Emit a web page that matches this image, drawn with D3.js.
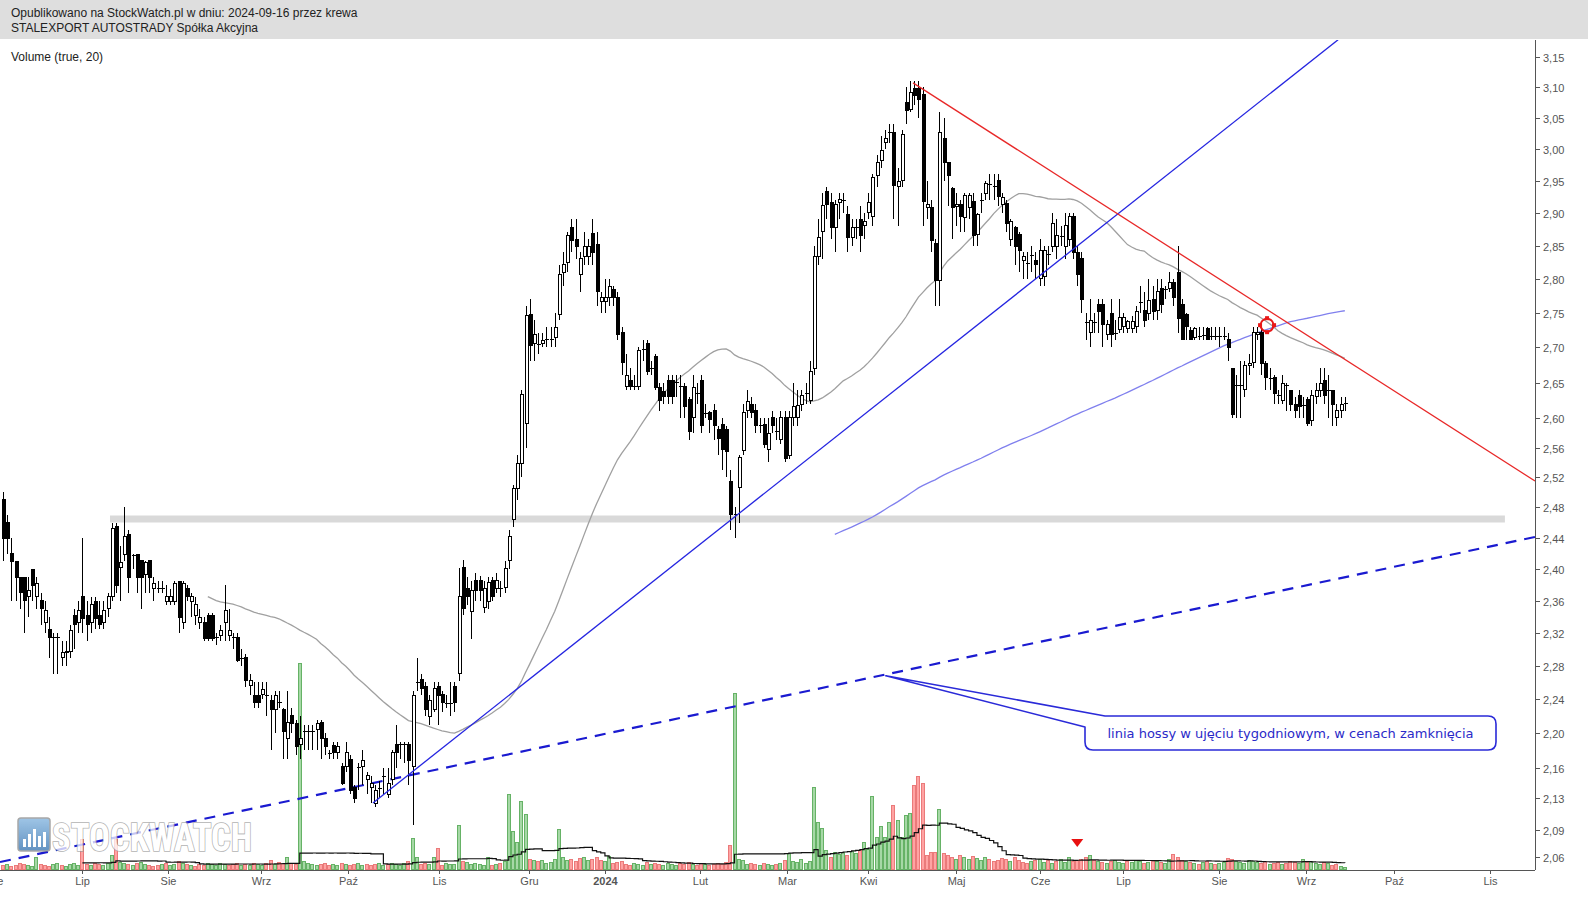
<!DOCTYPE html>
<html><head><meta charset="utf-8">
<script src="https://cdn.jsdelivr.net/npm/d3@7"></script>
<style>body{margin:0;background:#fff;}svg{display:block;font-family:Arial,"Liberation Sans",sans-serif;}</style>
</head><body><svg id="c" width="1588" height="900"></svg>
<script>
// ---------------- DATA ----------------
const opens=[
2.49,2.46,2.42,2.41,2.39,2.39,2.366,2.40,2.366,2.36,
2.333,2.324,2.315,2.315,2.29,2.298,2.298,2.342,2.333,2.366,
2.342,2.333,2.359,2.342,2.333,2.35,2.366,2.455,2.402,2.419,
2.445,2.418,2.419,2.411,2.393,2.411,2.376,2.376,2.376,2.359,
2.359,2.359,2.385,2.333,2.376,2.359,2.342,2.333,2.333,2.342,
2.342,2.315,2.317,2.333,2.317,2.315,2.315,2.289,2.29,2.256,
2.245,2.245,2.246,2.245,2.238,2.228,2.237,2.228,2.194,2.221,
2.211,2.187,2.202,2.202,2.202,2.204,2.212,2.194,2.177,2.186,
2.177,2.161,2.161,2.170,2.137,2.161,2.161,2.146,2.137,2.119,
2.137,2.151,2.130,2.146,2.187,2.187,2.187,2.187,2.161,2.26,
2.264,2.255,2.22,2.228,2.255,2.246,2.236,2.236,2.255,2.271,
2.402,2.376,2.347,2.386,2.386,2.352,2.359,2.386,2.376,2.376,
2.377,2.411,2.464,2.505,2.539,2.593,2.747,2.705,2.705,2.705,
2.712,2.712,2.714,2.747,2.809,2.825,2.878,2.859,2.807,2.834,
2.834,2.869,2.851,2.766,2.766,2.772,2.784,2.773,2.721,2.645,
2.653,2.645,2.645,2.697,2.705,2.670,2.687,2.643,2.637,2.653,
2.653,2.651,2.645,2.645,2.626,2.601,2.636,2.653,2.608,2.608,
2.611,2.585,2.591,2.585,2.515,2.471,2.506,2.556,2.611,2.619,
2.611,2.591,2.591,2.557,2.601,2.583,2.571,2.601,2.549,2.601,
2.601,2.619,2.636,2.625,2.670,2.834,2.871,2.933,2.916,2.878,
2.916,2.920,2.897,2.862,2.878,2.889,2.880,2.901,2.895,2.958,
2.981,3.011,3.027,3.027,2.941,2.950,3.075,3.064,3.098,3.098,
3.088,2.908,2.908,2.853,2.798,3.017,2.978,2.937,2.909,2.912,
2.892,2.908,2.918,2.866,2.920,2.930,2.944,2.942,2.950,2.912,
2.915,2.859,2.878,2.866,2.828,2.823,2.836,2.828,2.800,2.803,
2.837,2.848,2.848,2.865,2.848,2.859,2.894,2.840,2.831,2.736,
2.721,2.737,2.762,2.762,2.718,2.749,2.721,2.726,2.730,2.727,
2.727,2.730,2.766,2.753,2.749,2.769,2.753,2.786,2.785,2.785,
2.795,2.810,2.762,2.747,2.725,2.714,2.717,2.718,2.727,2.717,
2.716,2.716,2.717,2.711,2.670,2.647,2.647,2.640,2.674,2.678,
2.718,2.721,2.677,2.657,2.657,2.632,2.625,2.647,2.639,2.619,
2.632,2.619,2.627,2.597,2.630,2.639,2.653,2.639,2.639,2.601,
2.611,2.622];
const highs=[
2.50,2.47,2.44,2.41,2.39,2.39,2.39,2.40,2.39,2.37,
2.36,2.34,2.32,2.32,2.31,2.31,2.33,2.35,2.36,2.44,
2.36,2.365,2.365,2.36,2.36,2.37,2.46,2.46,2.43,2.48,
2.45,2.42,2.42,2.41,2.41,2.41,2.39,2.385,2.385,2.38,
2.375,2.385,2.385,2.385,2.38,2.37,2.365,2.35,2.34,2.345,
2.345,2.32,2.33,2.38,2.35,2.32,2.32,2.30,2.295,2.27,
2.26,2.26,2.26,2.26,2.245,2.25,2.25,2.23,2.25,2.23,
2.215,2.22,2.21,2.21,2.21,2.215,2.215,2.20,2.18,2.19,
2.19,2.165,2.19,2.175,2.14,2.165,2.18,2.155,2.15,2.14,
2.145,2.16,2.16,2.18,2.21,2.19,2.19,2.19,2.25,2.29,
2.27,2.26,2.245,2.26,2.26,2.25,2.245,2.26,2.26,2.402,
2.412,2.39,2.385,2.395,2.392,2.385,2.39,2.39,2.395,2.385,
2.41,2.45,2.51,2.55,2.64,2.76,2.77,2.74,2.72,2.72,
2.73,2.73,2.75,2.82,2.84,2.87,2.89,2.89,2.84,2.87,
2.86,2.89,2.87,2.78,2.80,2.80,2.79,2.78,2.73,2.69,
2.67,2.66,2.70,2.71,2.71,2.68,2.69,2.65,2.65,2.66,
2.66,2.66,2.66,2.65,2.63,2.66,2.65,2.66,2.62,2.61,
2.62,2.59,2.60,2.59,2.53,2.48,2.55,2.62,2.64,2.63,
2.62,2.60,2.60,2.60,2.61,2.60,2.61,2.61,2.61,2.65,
2.64,2.64,2.65,2.68,2.85,2.89,2.93,2.94,2.93,2.92,
2.93,2.93,2.91,2.89,2.89,2.91,2.90,2.93,2.96,2.99,
3.02,3.03,3.04,3.04,2.97,3.03,3.10,3.11,3.11,3.11,
3.10,2.95,2.92,2.86,3.06,3.05,2.98,2.94,2.93,2.92,
2.93,2.93,2.93,2.90,2.93,2.95,2.96,2.96,2.96,2.93,
2.92,2.89,2.88,2.87,2.84,2.84,2.85,2.84,2.86,2.85,
2.85,2.90,2.89,2.88,2.90,2.90,2.90,2.85,2.84,2.75,
2.77,2.75,2.77,2.77,2.74,2.77,2.74,2.77,2.75,2.74,
2.745,2.76,2.79,2.78,2.80,2.79,2.80,2.80,2.79,2.81,
2.80,2.85,2.77,2.75,2.73,2.73,2.73,2.73,2.73,2.73,
2.73,2.73,2.73,2.72,2.67,2.66,2.68,2.68,2.69,2.73,
2.73,2.73,2.68,2.67,2.66,2.64,2.66,2.65,2.64,2.63,
2.64,2.63,2.63,2.64,2.65,2.67,2.67,2.66,2.64,2.62,
2.63,2.63];
const lows=[
2.41,2.42,2.36,2.36,2.35,2.32,2.34,2.36,2.35,2.33,
2.32,2.29,2.27,2.27,2.28,2.28,2.29,2.30,2.32,2.32,
2.31,2.32,2.325,2.325,2.325,2.34,2.36,2.37,2.36,2.41,
2.37,2.40,2.37,2.35,2.37,2.37,2.36,2.37,2.37,2.355,
2.355,2.355,2.32,2.325,2.36,2.34,2.33,2.325,2.31,2.31,
2.31,2.305,2.31,2.31,2.31,2.30,2.285,2.28,2.255,2.245,
2.23,2.23,2.24,2.22,2.18,2.20,2.23,2.17,2.17,2.20,
2.175,2.17,2.18,2.18,2.18,2.18,2.17,2.175,2.17,2.17,
2.17,2.14,2.155,2.13,2.12,2.135,2.14,2.13,2.12,2.115,
2.125,2.13,2.125,2.14,2.16,2.17,2.165,2.14,2.095,2.25,
2.245,2.22,2.21,2.225,2.21,2.225,2.23,2.22,2.225,2.262,
2.343,2.355,2.313,2.36,2.36,2.345,2.35,2.36,2.37,2.365,
2.37,2.40,2.455,2.49,2.52,2.56,2.68,2.68,2.69,2.70,
2.70,2.70,2.70,2.74,2.79,2.81,2.84,2.83,2.78,2.82,
2.82,2.82,2.76,2.75,2.75,2.76,2.76,2.71,2.66,2.64,
2.64,2.64,2.64,2.68,2.66,2.66,2.64,2.61,2.62,2.62,
2.62,2.63,2.60,2.60,2.57,2.58,2.62,2.58,2.60,2.58,
2.57,2.55,2.53,2.52,2.45,2.44,2.46,2.55,2.60,2.60,
2.58,2.58,2.56,2.54,2.58,2.57,2.565,2.54,2.545,2.59,
2.59,2.61,2.62,2.62,2.66,2.82,2.83,2.89,2.86,2.84,
2.89,2.90,2.84,2.85,2.86,2.84,2.86,2.89,2.88,2.94,
2.97,3.00,3.01,2.89,2.88,2.94,3.04,3.06,3.07,3.05,
2.88,2.89,2.84,2.76,2.76,2.95,2.91,2.86,2.88,2.87,
2.87,2.89,2.85,2.85,2.90,2.92,2.92,2.92,2.91,2.90,
2.87,2.85,2.82,2.81,2.80,2.80,2.81,2.80,2.79,2.79,
2.82,2.84,2.83,2.85,2.83,2.85,2.83,2.79,2.75,2.71,
2.70,2.72,2.72,2.70,2.71,2.70,2.71,2.72,2.72,2.72,
2.72,2.72,2.75,2.73,2.74,2.74,2.74,2.75,2.77,2.78,
2.76,2.72,2.71,2.71,2.71,2.71,2.71,2.71,2.71,2.71,
2.71,2.70,2.71,2.68,2.60,2.60,2.60,2.63,2.66,2.67,
2.71,2.66,2.64,2.64,2.62,2.62,2.62,2.61,2.61,2.60,
2.60,2.60,2.59,2.59,2.62,2.63,2.62,2.60,2.59,2.59,
2.60,2.61];
const closes=[
2.44,2.44,2.41,2.39,2.37,2.36,2.373,2.38,2.382,2.35,
2.348,2.314,2.315,2.315,2.296,2.296,2.323,2.33,2.348,2.338,
2.33,2.355,2.338,2.33,2.348,2.365,2.452,2.38,2.409,2.442,
2.39,2.418,2.39,2.39,2.409,2.39,2.382,2.376,2.376,2.365,
2.365,2.382,2.339,2.382,2.365,2.365,2.355,2.339,2.313,2.313,
2.313,2.315,2.323,2.348,2.323,2.315,2.287,2.289,2.262,2.262,
2.236,2.236,2.252,2.245,2.228,2.245,2.237,2.202,2.212,2.211,
2.184,2.194,2.202,2.202,2.202,2.211,2.194,2.184,2.177,2.177,
2.184,2.142,2.177,2.134,2.125,2.161,2.168,2.151,2.142,2.134,
2.137,2.151,2.142,2.177,2.177,2.187,2.187,2.168,2.245,2.26,
2.253,2.228,2.239,2.253,2.245,2.236,2.236,2.236,2.236,2.366,
2.350,2.366,2.373,2.373,2.373,2.376,2.383,2.366,2.386,2.376,
2.401,2.442,2.505,2.538,2.633,2.746,2.702,2.718,2.705,2.710,
2.712,2.712,2.728,2.806,2.821,2.865,2.857,2.849,2.830,2.849,
2.849,2.840,2.781,2.772,2.772,2.789,2.772,2.718,2.678,2.660,
2.645,2.645,2.695,2.697,2.666,2.670,2.643,2.625,2.630,2.631,
2.631,2.651,2.645,2.616,2.582,2.643,2.636,2.590,2.608,2.598,
2.590,2.572,2.557,2.555,2.471,2.471,2.547,2.608,2.623,2.608,
2.590,2.591,2.564,2.580,2.590,2.583,2.601,2.545,2.601,2.616,
2.618,2.632,2.636,2.666,2.834,2.862,2.911,2.912,2.878,2.912,
2.920,2.920,2.862,2.877,2.878,2.865,2.886,2.916,2.955,2.978,
2.998,3.017,3.027,2.942,2.948,3.023,3.062,3.091,3.086,3.080,
2.917,2.912,2.857,2.798,3.027,2.978,2.958,2.908,2.912,2.895,
2.926,2.926,2.865,2.898,2.920,2.945,2.944,2.942,2.925,2.923,
2.884,2.887,2.848,2.842,2.834,2.823,2.836,2.822,2.842,2.842,
2.837,2.884,2.865,2.865,2.880,2.895,2.840,2.807,2.769,2.736,
2.739,2.737,2.752,2.733,2.733,2.718,2.721,2.743,2.743,2.737,
2.737,2.752,2.766,2.739,2.768,2.752,2.782,2.762,2.785,2.795,
2.772,2.741,2.711,2.730,2.712,2.727,2.717,2.718,2.711,2.717,
2.716,2.716,2.717,2.700,2.605,2.647,2.647,2.674,2.677,2.721,
2.721,2.677,2.657,2.657,2.634,2.632,2.649,2.647,2.619,2.611,
2.616,2.619,2.593,2.632,2.639,2.649,2.632,2.639,2.619,2.611,
2.620,2.622];
// volume, thousands of shares
const volumes=[
4,5,3,4,6,5,4,3,12,5, 4,3,5,6,4,3,5,6,4,30,
5,4,6,5,4,6,14,30,7,6, 5,4,6,7,5,4,3,4,5,6,
4,5,8,6,5,4,3,5,4,6, 5,4,6,5,4,5,6,4,5,4,
6,5,4,6,9,5,7,6,12,6, 5,206,8,6,5,4,5,6,4,5,
4,6,5,4,5,6,4,5,4,5, 6,4,5,6,5,4,6,8,31,12,
5,6,5,12,21,4,6,5,5,44, 8,7,5,6,5,4,12,4,5,6,
8,75,38,27,68,55,10,9,8,9, 6,7,10,40,12,9,10,8,11,12,
9,10,12,9,8,13,6,7,8,5, 4,6,5,4,7,5,6,5,4,6,
5,4,6,5,7,5,4,6,5,4, 5,6,5,7,24,176,10,9,5,6,
5,4,6,5,4,5,6,9,16,8, 7,10,6,8,82,47,41,19,12,17,
15,17,14,18,16,19,27,20,73,32, 43,32,47,64,49,32,54,56,84,93,
86,14,17,17,60,16,14,12,10,14, 12,10,13,11,9,12,10,8,9,11,
10,8,12,9,7,6,8,9,10,7, 9,6,8,10,7,12,8,9,10,12,
14,9,8,7,6,8,9,7,6,8, 7,9,8,6,7,9,8,7,6,10,
15,12,9,8,7,6,5,7,8,6, 5,6,7,11,10,8,7,6,9,8,
7,6,8,5,6,7,5,6,8,7, 6,10,7,8,6,5,7,6,4,5,
3,2];
const priceTicks=[2.06,2.09,2.125,2.16,2.20,2.24,2.28,2.32,2.36,2.40,2.44,2.48,2.52,2.56,2.60,2.65,2.70,2.75,2.80,2.85,2.90,2.95,3.00,3.05,3.10,3.15];
const priceTickLabels=["2,06","2,09","2,13","2,16","2,20","2,24","2,28","2,32","2,36","2,40","2,44","2,48","2,52","2,56","2,60","2,65","2,70","2,75","2,80","2,85","2,90","2,95","3,00","3,05","3,10","3,15"];
const monthLabels=["Cze","Lip","Sie","Wrz","Paź","Lis","Gru","2024","Lut","Mar","Kwi","Maj","Cze","Lip","Sie","Wrz","Paź","Lis"];
const monthIdx=[-2.5,19,39.5,61.7,82.5,104.3,125.8,144,166.7,187.6,207,228,248,268,291,311.7,332.8,355.7];
// drawn lines: [barIndex, price] anchors
const blueTrend=[[88.5,2.12],[319.4,3.179]];
const redTrend=[[217.7,3.107],[366.5,2.515]];
const weeklyTrend=[[-0.72,2.0545],[366.5,2.4415]];
const supportBand=[[25.6,2.465],[359.3,2.465]];
const noteAnchor=[211.2,2.268];
const noteText="linia hossy w ujęciu tygodniowym, w cenach zamknięcia";
const targetMark=[302.4,2.732];
const signalBar=257;
const headerLines=["Opublikowano na StockWatch.pl w dniu: 2024-09-16 przez krewa","STALEXPORT AUTOSTRADY Spółka Akcyjna"];
const maShort=50, maLong=200, volMa=20;

// ---------------- CHART ----------------
const svg=d3.select("#c");
const W=1588,H=900, plotL=0, plotR=1535, plotT=40, plotB=870;
const x=d3.scaleLinear().domain([0,366.5]).range([3,1535]);
const y=d3.scaleLog().domain([2.06,3.15]).range([857,57]);
const vy=d3.scaleLinear().domain([0,206]).range([869,663]);

svg.append("rect").attr("width",W).attr("height",H).attr("fill","#fff");
// header
svg.append("rect").attr("x",0).attr("y",0).attr("width",W).attr("height",39).attr("fill","#dedede");
headerLines.forEach((t,k)=>svg.append("text").attr("x",11).attr("y",17+k*14.5).attr("font-size",12).attr("fill","#222").text(t));

const defs=svg.append("defs");
defs.append("clipPath").attr("id","plot").append("rect").attr("x",plotL).attr("y",plotT).attr("width",plotR-plotL).attr("height",plotB-plotT);
const g=svg.append("g").attr("clip-path","url(#plot)");

svg.append("text").attr("x",11).attr("y",61).attr("font-size",12).attr("fill","#222").text("Volume (true, 20)");

// support band
g.append("line").attr("x1",x(supportBand[0][0])).attr("x2",x(supportBand[1][0]))
 .attr("y1",y(supportBand[0][1])).attr("y2",y(supportBand[1][1]))
 .attr("stroke","#d9d9d9").attr("stroke-width",7);

// watermark
const wm=svg.append("g").attr("opacity",0.75);
const wmg=defs.append("linearGradient").attr("id","wmg").attr("x1",0).attr("y1",0).attr("x2",0).attr("y2",1);
wmg.append("stop").attr("offset","0%").attr("stop-color","#7fb2de");
wmg.append("stop").attr("offset","100%").attr("stop-color","#2f6fae");
wm.append("rect").attr("x",18).attr("y",818).attr("width",32).attr("height",33).attr("rx",3).attr("fill","url(#wmg)").attr("stroke","#8a8a8a").attr("stroke-width",1.5);
[[23,8],[28,13],[33,18],[38,11],[43,15]].forEach(([bx,bh])=>wm.append("rect").attr("x",bx).attr("y",847-bh).attr("width",3).attr("height",bh).attr("fill","#fff"));
wm.append("text").attr("x",52).attr("y",851).attr("font-size",38).attr("font-weight","bold")
 .attr("font-family","'Liberation Sans Narrow','Roboto Condensed',Arial,sans-serif")
 .attr("textLength",200).attr("lengthAdjust","spacingAndGlyphs")
 .attr("fill","#ffffff").attr("stroke","#9a9a9a").attr("stroke-width",1.6).attr("paint-order","stroke").text("STOCKWATCH");

// volume bars
const n=closes.length;
const vg=g.append("g").attr("shape-rendering","crispEdges");
for(let i=0;i<n;i++){
  const up = i===0 ? closes[i]>=opens[i] : closes[i]>=closes[i-1];
  const xx=Math.round(x(i));
  vg.append("rect").attr("x",xx-1.5).attr("y",vy(volumes[i])).attr("width",3).attr("height",vy(0)-vy(volumes[i]))
    .attr("fill",up?"#a6d8a6":"#ffa3a3").attr("stroke",up?"#66b266":"#ea7a7a").attr("stroke-width",1);
}
// volume MA
const vma=[];
for(let i=volMa-1;i<n;i++){vma.push([i,d3.mean(volumes.slice(i-volMa+1,i+1))]);}
g.append("path").attr("d",d3.line().x(d=>x(d[0])).y(d=>vy(d[1])).curve(d3.curveStepAfter)(vma))
 .attr("fill","none").attr("stroke","#111").attr("stroke-width",1.2);

// moving averages of price
function sma(p){const r=[];for(let i=p-1;i<n;i++)r.push([i,d3.mean(closes.slice(i-p+1,i+1))]);return r;}
const lineP=d3.line().x(d=>x(d[0])).y(d=>y(d[1]));
g.append("path").attr("d",lineP(sma(maShort))).attr("fill","none").attr("stroke","#a0a0a0").attr("stroke-width",1.3);
g.append("path").attr("d",lineP(sma(maLong))).attr("fill","none").attr("stroke","#8080ee").attr("stroke-width",1.3);

// dashed weekly trend
g.append("line").attr("x1",x(weeklyTrend[0][0])).attr("y1",y(weeklyTrend[0][1])).attr("x2",x(weeklyTrend[1][0])).attr("y2",y(weeklyTrend[1][1]))
 .attr("stroke","#1a1ad0").attr("stroke-width",2.2).attr("stroke-dasharray","11,8");

// candles
const cg=g.append("g").attr("shape-rendering","crispEdges");
for(let i=0;i<n;i++){
  const xx=Math.round(x(i))+0.5;
  cg.append("line").attr("x1",xx).attr("x2",xx).attr("y1",y(highs[i])).attr("y2",y(lows[i])).attr("stroke","#000").attr("stroke-width",1);
  const top=y(Math.max(opens[i],closes[i])), bot=y(Math.min(opens[i],closes[i]));
  const up=closes[i]>=opens[i];
  if(bot-top<1.5){
    cg.append("line").attr("x1",xx-2).attr("x2",xx+2).attr("y1",Math.round(top)+0.5).attr("y2",Math.round(top)+0.5).attr("stroke","#000").attr("stroke-width",1.5);
  } else {
    cg.append("rect").attr("x",xx-1.5).attr("y",top).attr("width",3).attr("height",bot-top)
      .attr("fill",up?"#fff":"#000").attr("stroke","#000").attr("stroke-width",1);
  }
}

// trend lines
function extLine(a,b){return [[x(a[0]),y(a[1])],[x(b[0]),y(b[1])]];}
const bl=extLine(blueTrend[0],blueTrend[1]);
g.append("line").attr("x1",bl[0][0]).attr("y1",bl[0][1]).attr("x2",bl[1][0]).attr("y2",bl[1][1]).attr("stroke","#2424e0").attr("stroke-width",1.3);
const rl=extLine(redTrend[0],redTrend[1]);
g.append("line").attr("x1",rl[0][0]).attr("y1",rl[0][1]).attr("x2",rl[1][0]).attr("y2",rl[1][1]).attr("stroke","#e82828").attr("stroke-width",1.3);

// target marker
const mx=x(targetMark[0]), my=y(targetMark[1]);
g.append("circle").attr("cx",mx).attr("cy",my).attr("r",6.5).attr("fill","none").attr("stroke","#e81818").attr("stroke-width",2);
[[0,-7],[0,7],[-7,0],[7,0]].forEach(([dx,dy])=>g.append("rect").attr("x",mx+dx-2).attr("y",my+dy-2).attr("width",4).attr("height",4).attr("fill","#e81818"));

// signal triangle
const sx=x(signalBar);
g.append("path").attr("d",`M${sx-6},${839}L${sx+6},${839}L${sx},${847}Z`).attr("fill","#e81010");

// note callout
const ax=x(noteAnchor[0]), ay=y(noteAnchor[1]);
const bx0=1085,bx1=1496,by0=716,by1=750,r=8;
const cp=`M${ax},${ay} L${bx0+20},${by0} H${bx1-r} Q${bx1},${by0} ${bx1},${by0+r} V${by1-r} Q${bx1},${by1} ${bx1-r},${by1} H${bx0+r} Q${bx0},${by1} ${bx0},${by1-r} V${by0+11} Z`;
svg.append("path").attr("d",cp).attr("fill","#fff").attr("stroke","#2a2ad8").attr("stroke-width",1.6).attr("stroke-linejoin","round");
svg.append("text").attr("x",(bx0+bx1)/2).attr("y",738).attr("text-anchor","middle").attr("font-size",13)
 .attr("font-family","'DejaVu Sans',Verdana,sans-serif").attr("fill","#2a2ac8").text(noteText);

// axes
svg.append("line").attr("x1",plotR+0.5).attr("x2",plotR+0.5).attr("y1",plotT).attr("y2",plotB).attr("stroke","#555").attr("stroke-width",1);
svg.append("line").attr("x1",0).attr("x2",plotR).attr("y1",plotB+0.5).attr("y2",plotB+0.5).attr("stroke","#555").attr("stroke-width",1);
priceTicks.forEach((v,k)=>{
  const yy=Math.round(y(v))+0.5;
  svg.append("line").attr("x1",plotR).attr("x2",plotR+5).attr("y1",yy).attr("y2",yy).attr("stroke","#555");
  svg.append("text").attr("x",plotR+8).attr("y",yy+4).attr("font-size",11).attr("fill","#555").text(priceTickLabels[k]);
});
monthLabels.forEach((m,k)=>{
  const xx=Math.round(x(monthIdx[k]))+0.5;
  svg.append("line").attr("x1",xx).attr("x2",xx).attr("y1",plotB).attr("y2",plotB+4).attr("stroke","#555");
  svg.append("text").attr("x",xx).attr("y",885).attr("text-anchor","middle").attr("font-size",11)
    .attr("font-weight",m==="2024"?"bold":"normal").attr("fill","#555").text(m);
});
</script></body></html>
